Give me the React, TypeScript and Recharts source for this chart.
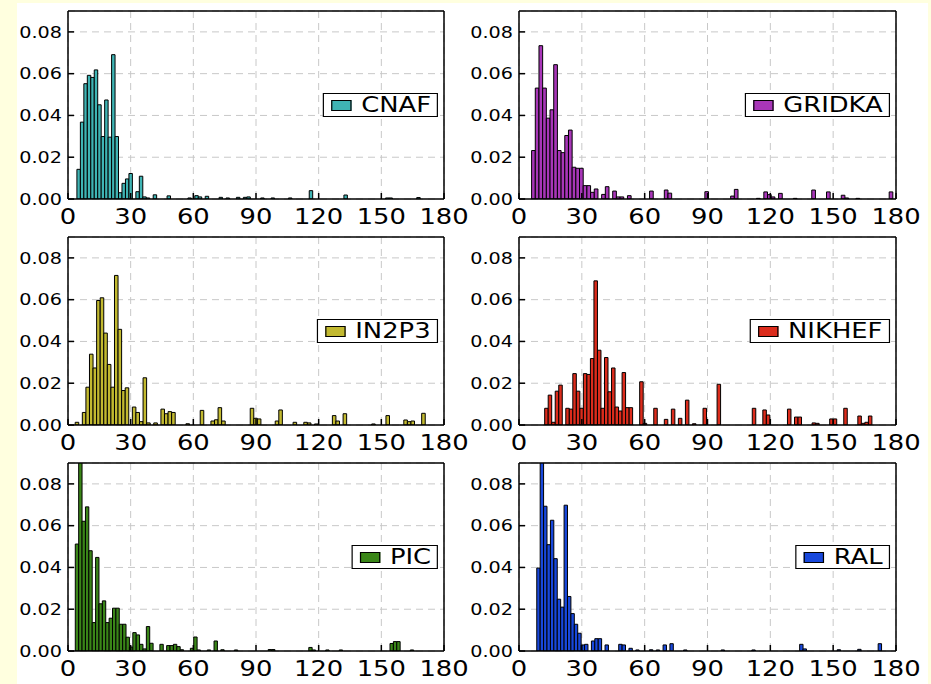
import React from "react";
import { Bar, BarChart, CartesianGrid, XAxis, YAxis } from "recharts";

// histogram bins: first bin centre, bin width (minutes), dense head of bins, sparse tail [binIndex, value]
const xTicks = [0, 30, 60, 90, 120, 150, 180];
const yTicks = [0, 0.02, 0.04, 0.06, 0.08];

const cnafHead = [0.0142, 0.0368, 0.0552, 0.0592, 0.0582, 0.0618, 0.0451, 0.0299, 0.0474, 0.0296, 0.0691, 0.0299, 0.003, 0.0075, 0.0096, 0.0122, 0, 0.0035, 0.0109, 0.001];
const cnafTail = [[20, 0.0005], [22, 0.002], [26, 0.0015], [32, 0.0005], [34, 0.0016], [35, 0.001], [37, 0.0013], [41, 0.0008], [43, 0.0005], [46, 0.0008], [48, 0.0008], [49, 0.001], [53, 0.0005], [56, 0.0005], [61, 0.0005], [67, 0.004], [77, 0.0019], [89, 0.0005], [90, 0.0005], [98, 0.0007]];

const gridkaHead = [0.0232, 0.0531, 0.0734, 0.0531, 0.0387, 0.0427, 0.0643, 0.0232, 0.0222, 0.0304, 0.033, 0.0152, 0.0147, 0.0147, 0.0064, 0.0064, 0.0032, 0.0048];
const gridkaTail = [[19, 0.0022], [20, 0.0059], [22, 0.0038], [23, 0.001], [24, 0.001], [26, 0.0016], [32, 0.0038], [36, 0.0043], [37, 0.0028], [47, 0.0035], [54, 0.0014], [55, 0.0046], [61, 0.0003], [63, 0.0034], [64, 0.0021], [65, 0.001], [67, 0.0027], [71, 0.0003], [76, 0.0043], [80, 0.0034], [84, 0.0018], [85, 0.0005], [88, 0.0003], [97, 0.0034]];

const in2p3Head = [0.0013, 0, 0.006, 0.0181, 0.0339, 0.0273, 0.0596, 0.0609, 0.044, 0.029, 0.0181, 0.0716, 0.0458, 0.0165, 0.0178, 0, 0.0086, 0.006, 0.0016, 0.0226, 0.001];
const in2p3Tail = [[22, 0.001], [24, 0.0076], [25, 0.0054], [26, 0.0064], [27, 0.006], [31, 0.0006], [35, 0.007], [38, 0.0019], [39, 0.0025], [40, 0.0083], [41, 0.0019], [49, 0.008], [50, 0.0032], [51, 0.0029], [56, 0.0019], [57, 0.0072], [61, 0.0013], [64, 0.0013], [65, 0.001], [67, 0.0005], [72, 0.0045], [73, 0.0019], [75, 0.0054], [83, 0.0005], [87, 0.0045], [92, 0.0024], [93, 0.0016], [94, 0.0019], [97, 0.0056]];

const nikhefHead = [0.008, 0.0143, 0.0013, 0.0162, 0.0191, 0, 0.008, 0.0076, 0.0246, 0.0162, 0.008, 0.0246, 0.0242, 0.0318, 0.069, 0.0358, 0.008, 0.0323, 0.0159, 0.0273, 0.0086, 0.0067, 0.0251, 0.0083, 0.0083];
const nikhefTail = [[27, 0.0207], [28, 0.0008], [31, 0.008], [34, 0.0027], [36, 0.0076], [38, 0.0032], [40, 0.0119], [42, 0.0006], [45, 0.008], [49, 0.0195], [59, 0.008], [62, 0.0072], [63, 0.0048], [69, 0.0076], [71, 0.0038], [72, 0.0038], [76, 0.001], [77, 0.0008], [81, 0.0029], [82, 0.0029], [85, 0.008], [89, 0.0043], [90, 0.0008], [91, 0.0013], [92, 0.0043]];

const picHead = [0.0512, 0.092, 0.0621, 0.069, 0.048, 0.0136, 0.0448, 0.0226, 0.024, 0.0136, 0.0157, 0.0205, 0.0205, 0.0128, 0.0128, 0.0066, 0.0019, 0.0088, 0.0077, 0.0032, 0.001, 0.0117, 0.0037];
const picTail = [[25, 0.0032], [27, 0.0026], [28, 0.0026], [29, 0.0032], [30, 0.0021], [31, 0.0006], [34, 0.0013], [35, 0.0067], [36, 0.0005], [39, 0.0005], [41, 0.0048], [43, 0.0006], [47, 0.0005], [57, 0.0007], [58, 0.0007], [69, 0.0017], [70, 0.0005], [74, 0.0005], [78, 0.0005], [93, 0.0036], [94, 0.0045], [95, 0.0045], [99, 0.0005]];

const ralHead = [0.0397, 0.092, 0.0693, 0.0509, 0.0626, 0.0442, 0.0248, 0.021, 0.0698, 0.0261, 0.0179, 0.0128, 0.0085, 0.0029, 0.0032, 0, 0.0048, 0.0059, 0.0059];
const ralTail = [[20, 0.0029], [24, 0.0032], [25, 0.0029], [27, 0.0013], [29, 0.0005], [33, 0.0006], [35, 0.0005], [37, 0.0029], [39, 0.0035], [43, 0.0005], [54, 0.0005], [63, 0.0005], [77, 0.0032], [78, 0.001], [88, 0.0006], [94, 0.0008], [100, 0.0035]];

type Site = {
  name: string;
  color: string;
  start: number;
  width: number;
  head: number[];
  tail: number[][];
};

const sites: Site[] = [
  { name: "CNAF", color: "#3fb4b4", start: 5.1, width: 1.66, head: cnafHead, tail: cnafTail },
  { name: "GRIDKA", color: "#a836b8", start: 6.9, width: 1.76, head: gridkaHead, tail: gridkaTail },
  { name: "IN2P3", color: "#c2b930", start: 4.3, width: 1.71, head: in2p3Head, tail: in2p3Tail },
  { name: "NIKHEF", color: "#dc2c1c", start: 13.1, width: 1.68, head: nikhefHead, tail: nikhefTail },
  { name: "PIC", color: "#3a8618", start: 4.3, width: 1.62, head: picHead, tail: picTail },
  { name: "RAL", color: "#1848dc", start: 9.3, width: 1.63, head: ralHead, tail: ralTail },
];

const FONT = "'DejaVu Sans', sans-serif";
const STRETCH = 1.2;

const toRows = (s: Site) => {
  const rows = s.head.map((v, i) => ({ x: s.start + i * s.width, y: v }));
  s.tail.forEach(([i, v]) => rows.push({ x: s.start + i * s.width, y: v }));
  return rows.filter((r) => r.y > 0);
};

const XTick = ({ x, y, payload }: any) => (
  <text
    transform={`translate(${x},${y}) scale(${STRETCH},1)`}
    textAnchor="middle"
    dy="0.71em"
    fontSize={21.5}
    fontFamily={FONT}
    fill="#000"
  >
    {payload.value}
  </text>
);

const YTick = ({ x, y, payload }: any) => (
  <text
    transform={`translate(${x},${y}) scale(${STRETCH},1)`}
    textAnchor="end"
    dy="0.36em"
    fontSize={16}
    fontFamily={FONT}
    fill="#000"
  >
    {payload.value.toFixed(2)}
  </text>
);

const PLOT_H = 188;

function Panel({ site, left, top, plotWidth }: { site: Site; left: number; top: number; plotWidth: number }) {
  const ppu = plotWidth / 180;
  const chartW = 60 + plotWidth + 30;
  const chartH = 8 + PLOT_H + 34;
  return (
    <div style={{ position: "absolute", left: left - 60, top: top - 8, width: chartW, height: chartH }}>
      <BarChart
        width={chartW}
        height={chartH}
        data={toRows(site)}
        margin={{ top: 7, right: 29, bottom: 0, left: 0 }}
      >
        <CartesianGrid stroke="#c8c8c8" strokeDasharray="7 5" />
        <XAxis
          dataKey="x"
          type="number"
          domain={[0, 180]}
          ticks={xTicks}
          interval={0}
          height={34}
          tickSize={-6}
          tickMargin={16}
          tick={(p: any) => <XTick {...p} />}
          stroke="#000"
          strokeWidth={1.5}
        />
        <XAxis
          xAxisId="top"
          orientation="top"
          type="number"
          domain={[0, 180]}
          ticks={xTicks}
          allowDataOverflow
          height={1}
          tick={false}
          tickSize={-6}
          stroke="#000"
          strokeWidth={1.5}
        />
        <YAxis
          type="number"
          domain={[0, 0.09]}
          ticks={yTicks}
          allowDataOverflow
          width={60}
          tickSize={-6}
          tickMargin={12}
          tick={(p: any) => <YTick {...p} />}
          stroke="#000"
          strokeWidth={1.5}
        />
        <YAxis
          yAxisId="right"
          orientation="right"
          type="number"
          domain={[0, 0.09]}
          ticks={yTicks}
          allowDataOverflow
          width={1}
          tick={false}
          tickSize={-6}
          stroke="#000"
          strokeWidth={1.5}
        />
        <Bar
          dataKey="y"
          fill={site.color}
          stroke="#000"
          strokeWidth={1}
          barSize={site.width * ppu - 0.02}
          isAnimationActive={false}
        />
      </BarChart>
      <div
        style={{
          position: "absolute",
          right: 30 + 6,
          top: 8 + PLOT_H / 2 - 12,
          height: 24,
          boxSizing: "border-box",
          display: "flex",
          alignItems: "center",
          background: "#fff",
          border: "1.2px solid #000",
          padding: "0 5px 0 6px",
          transform: `scaleX(${STRETCH})`,
          transformOrigin: "right center",
        }}
      >
        <span
          style={{
            width: 17,
            height: 11,
            boxSizing: "border-box",
            border: "1px solid #000",
            background: site.color,
            marginRight: 8,
          }}
        />
        <span style={{ fontFamily: FONT, fontSize: 21.5, lineHeight: 1, color: "#000" }}>{site.name}</span>
      </div>
    </div>
  );
}

const rowTops = [11, 237, 463];
const colLefts = [68, 519];
const colWidths = [376, 377];

export default function App() {
  return (
    <div style={{ position: "absolute", left: 0, top: 0, width: 931, height: 684, background: "#ffffdf", overflow: "hidden" }}>
      <div style={{ position: "absolute", left: 17, top: 3, width: 911, height: 681, background: "#fff" }} />
      {sites.map((s, i) => (
        <Panel
          key={s.name}
          site={s}
          left={colLefts[i % 2]}
          top={rowTops[Math.floor(i / 2)]}
          plotWidth={colWidths[i % 2]}
        />
      ))}
    </div>
  );
}
